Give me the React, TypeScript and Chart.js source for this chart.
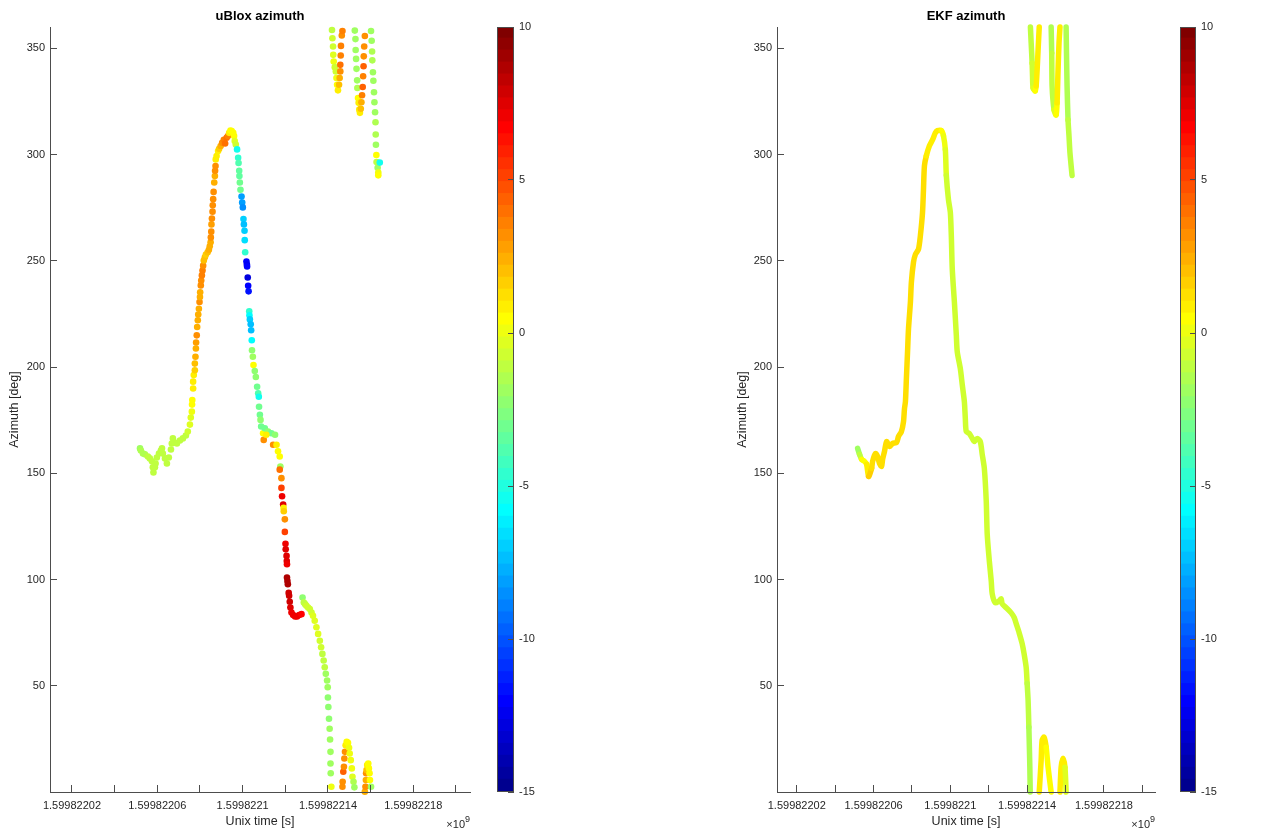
import React, { useEffect, useRef } from 'react';
import { Chart, registerables } from 'chart.js';

Chart.register(...registerables);

const FONT = "'Liberation Sans', Arial, Helvetica, sans-serif";
const TEXT_COLOR = '#262626';
const LINE_COLOR = '#4d4d4d';

// time values are seconds after 1599822000 (Unix time); axis labels in units of 1e9 s
const X_LIMITS = [9.7, 206.6];
const Y_LIMITS = [0, 360];
const C_LIMITS = [-15, 10];
const X_TICKS = [20, 40, 60, 80, 100, 120, 140, 160, 180, 200];
const X_TICK_LABELS = ['1.59982202', '', '1.59982206', '', '1.5998221', '', '1.59982214', '', '1.59982218', ''];
const Y_TICKS = [50, 100, 150, 200, 250, 300, 350];
const C_TICKS = [-15, -10, -5, 0, 5, 10];
const X_EXPONENT = '9';

// uBlox azimuth samples: time, azimuth [deg], colour value
const UBLOX_T = [
  51.9, 52.3, 53.3, 54.2, 55.6, 56.5, 57.5, 57.9, 58.2, 58.9, 59.2, 59.8, 60.8, 61.7, 62.2, 62.6, 63.6, 64.5, 65.4, 66.4,
  66.8, 67.3, 68.2, 69.2, 70.6, 72.0, 73.4, 74.3, 75.3, 75.7, 76.2, 76.3,
  76.4, 76.8, 76.8, 77.1, 77.6, 77.6, 77.9, 78.1, 78.2, 78.5, 78.7, 79.0, 79.2, 79.5, 79.8, 80.0, 80.1, 80.4, 80.6, 80.9,
  81.2, 81.5, 81.8, 82.3, 82.8, 83.6, 84.2, 84.6, 85.0, 85.1, 85.3, 85.4, 85.6, 85.9, 86.0, 86.2, 86.4, 86.7, 87.0, 87.1,
  87.3, 87.4, 87.8, 88.5, 89.0, 89.7, 90.4, 91.2, 91.8, 92.5, 93.1, 93.7, 94.3, 94.9, 95.6, 96.0, 96.3, 96.8,
  97.4, 97.9, 98.1, 98.4, 98.5, 98.7, 99.0, 99.5, 99.8, 100.1, 100.4, 100.6, 100.9, 101.0, 101.2, 101.8, 102.0, 102.1, 102.4, 102.6,
  102.8, 103.1, 103.2, 103.4, 103.8, 104.0, 104.3, 104.4, 104.8, 105.1, 105.7, 106.2, 106.8, 107.3, 107.6, 107.7, 108.1, 108.4, 108.7, 109.6,
  110.4, 111.9, 113.5, 115.2, 109.9, 111.1, 114.3, 115.9, 116.6, 117.4, 117.7, 117.4, 118.2, 118.2, 118.5, 119.0, 119.2, 119.3, 119.8, 119.8,
  120.1, 120.2, 120.6, 120.7, 120.8, 120.8, 121.0, 121.2, 121.6, 121.8, 122.1, 122.4, 122.9, 123.7, 124.6, 125.5, 126.5, 127.6,
  128.1, 128.7, 129.3, 129.9, 130.7, 131.5, 132.3, 133.0, 133.8, 134.6, 135.4, 136.2, 136.8, 137.4, 138.0, 138.5, 139.0, 139.6, 139.9, 140.0,
  140.2, 140.5, 140.8, 141.0, 141.2, 141.2, 141.3, 141.6,
  141.9, 142.1, 142.4, 142.5, 142.7, 143.2, 143.7, 144.0, 144.3, 144.7, 145.2, 145.5, 145.8, 145.8, 146.0, 146.1, 146.5, 146.8,
  146.8, 146.9, 147.2, 147.5, 147.7, 148.0, 148.3, 148.8, 149.4, 149.9, 150.2, 150.7, 151.2, 151.5, 152.0, 152.4,
  152.6, 152.9, 153.0, 153.2, 153.4, 153.7, 153.8, 154.1, 154.4, 154.7, 155.0, 155.4, 155.7, 156.0, 156.3, 156.5, 156.7, 156.8, 157.0, 157.3,
  157.3, 157.6, 157.8, 157.9, 158.1, 158.4, 158.9, 159.2, 159.5, 159.7, 160.2,
  160.2, 160.5, 160.7, 160.8, 161.1, 161.3, 161.6, 161.8, 162.1, 162.3, 162.4, 162.5, 162.7, 162.8, 163.3, 163.6, 163.6, 164.3,
];
const UBLOX_AZ = [
  161.7, 160.7, 159.3, 158.9, 157.9, 157.0, 155.6, 152.8, 150.4, 152.8, 154.6, 157.4, 159.3, 160.7, 161.7, 159.3, 157.0, 154.6, 157.4, 161.2,
  164.0, 166.4, 164.5, 164.0, 165.4, 166.4, 167.8, 169.6, 172.9, 176.2, 179.0, 182.3,
  184.5, 189.9, 193.1, 196.2, 198.5, 201.6, 204.8, 208.7, 211.5, 214.9, 218.8, 222.0, 224.7, 227.4, 230.6, 232.9, 235.2, 238.4, 240.7, 243.1,
  245.4, 247.7, 250.1, 251.6, 252.9, 254.0, 255.2, 256.8, 258.7, 261.0, 263.7, 267.1, 269.9, 273.1, 276.1, 279.0, 282.4, 286.8, 289.9, 292.3,
  294.6, 297.7, 299.3, 301.6, 302.7, 304.0, 305.5, 306.9, 305.2, 307.9, 308.7, 310.2, 311.3, 311.0, 310.2, 308.7, 306.3, 304.7,
  302.4, 298.5, 296.0, 292.3, 289.9, 286.8, 283.4, 280.2, 277.4, 275.1, 269.6, 267.1, 264.1, 259.7, 254.0, 249.6, 248.2, 247.3, 242.1, 238.2,
  235.6, 226.2, 224.3, 222.4, 220.1, 217.3, 212.6, 207.9, 204.8, 200.9, 198.1, 195.3, 190.7, 187.6, 186.0, 181.3, 177.5, 175.1, 172.0, 168.8,
  171.2, 169.6, 168.8, 168.1, 165.7, 168.1, 163.4, 163.4, 160.3, 157.9, 153.2, 151.7, 147.7, 143.1, 139.2, 135.3, 133.7, 132.1, 128.3, 122.4,
  116.8, 114.2, 111.1, 108.7, 107.2, 100.9, 99.3, 97.8, 93.7, 92.3, 89.5, 86.8, 84.5, 83.3, 82.6, 82.6, 83.3, 83.7,
  91.5, 89.2, 88.4, 87.6, 86.8, 86.1, 84.5, 82.9, 80.6, 77.5, 74.4, 71.2, 68.1, 65.0, 61.9, 58.7, 55.6, 52.5, 49.3, 44.5,
  40.0, 34.5, 29.8, 24.7, 18.9, 13.4, 8.8, 2.5,
  358.6, 354.7, 350.8, 346.9, 343.8, 341.1, 339.1, 336.0, 332.8, 330.2, 332.8, 336.0, 339.1, 342.2, 346.6, 351.1, 356.0, 358.1,
  2.5, 4.8, 9.5, 11.9, 15.8, 18.9, 22.0, 23.6, 23.1, 20.8, 18.1, 15.0, 11.1, 7.2, 4.8, 2.2,
  358.3, 354.3, 349.2, 345.0, 340.3, 334.9, 331.3, 326.6, 324.3, 321.1, 319.6, 321.5, 324.6, 327.9, 331.8, 336.8, 341.5, 346.2, 350.8, 355.8,
  0.1, 2.5, 5.6, 8.8, 10.3, 12.7, 13.4, 11.1, 8.8, 5.6, 2.5,
  358.1, 353.5, 348.5, 344.3, 338.7, 334.7, 329.3, 324.6, 319.9, 315.2, 309.4, 304.6, 299.8, 296.5, 293.8, 291.5, 290.2, 296.2,
];
const UBLOX_C = [
  -2, -1.5, -1.5, -1.5, -1.2, -1, -1, -1, -1, -1, -1, -1, -1, -1, -1.3, -1, -1, -1, -1, -1,
  -1.2, -1.2, -1, -1, -1, -1, -1, -0.8, -0.5, -0.3, 0, 0.5,
  0.5, 0.8, 1, 1, 1.5, 2, 2.5, 2.5, 2.8, 3, 2.5, 2.5, 2.5, 2.5, 3, 2.5, 2.5, 3, 3, 3.5,
  3.5, 3, 2, 2, 1.5, 1.8, 2.5, 2.5, 2.5, 3, 3, 2.8, 3, 3, 3, 3, 3, 2.5, 2.5, 3,
  3, 1, 0.8, 1, 1.5, 2.5, 3, 3.5, 4, 4, 3.5, 1, 0.5, 0.5, 0.3, 0.5, -0.5, -0.8,
  -5.5, -4.5, -4, -3.5, -3.5, -3, -3, -8, -8, -8.5, -7, -7.5, -7, -6.5, -4.5, -12, -12.5, -12, -13, -12,
  -11.5, -4.5, -6, -7, -7.5, -7.5, -6, -2.5, -2, 0.5, -2.5, -2.5, -3, -4, -5.5, -3, -3, -2.5, -3, 0.5,
  -3, -2.5, -3, -2.5, 3, 1, 3, 1, 0.5, 0.5, -2, 4, 3, 5, 7, 7.5, 1, 1.5, 3, 5,
  7, 7.5, 7.5, 7.5, 7, 8.5, 8.5, 8.5, 8, 8, 8, 7.5, 7, 7, 7, 7, 7, 6.5,
  -2.5, -1, -1, -0.8, -0.8, -0.8, -0.6, -0.5, -0.5, -0.5, -0.5, -0.6, -0.8, -1, -1.2, -1.3, -1.8, -2, -2, -2.2,
  -2.2, -2.2, -2, -2, -2, -2, -2, 0,
  -1, -0.8, -0.8, -0.5, 0, -0.8, -0.8, 0, 0.5, 1, 2, 2.5, 3, 4, 3.5, 3.5, 3, 3.5,
  3, 3, 4.5, 3, 3, 3, 1, 0.5, 0.5, 0, 0, 0, 0, -0.5, -1.5, -2,
  -2, -2, -2, -2, -2, -2, -1.5, 0.5, 0.8, 1, 1, 2, 2.5, 3.5, 4.5, 3.5, 4.5, 3, 3, 3,
  2.5, 3, 2.5, 3, 2, 1, 0.5, 0.5, 0.5, 0.5, -2,
  -2, -2, -1.5, -1.5, -2, -2, -2, -2, -2, -1.5, -1.5, -2, 0.5, -1, -2, 0, 0.5, -5.5,
];

// EKF azimuth: time, azimuth [deg] (null = break at 0/360 wrap), colour value
const EKF_T = [
  51.7, 52.7, 53.8, 55.3, 56.4, 57.4, 59.0, 59.5, 61.0, 62.1, 63.1, 64.2, 64.7, 65.7, 66.8, 68.3, 69.9, 72.0, 73.0, 74.5,
  75.6, 76.1, 76.6,
  77.1, 77.7, 78.2, 79.2, 79.7, 80.8, 81.8, 83.4, 84.4, 85.5, 86.0, 86.5, 87.5, 89.1, 90.7, 92.2, 93.2,
  95.3, 96.4, 97.4, 97.9, 99.0, 100.0, 100.5, 101.0, 102.1, 103.1, 103.6, 105.2, 106.2, 107.3, 107.8, 108.3, 109.9, 111.4, 112.5, 114.0,
  115.6, 116.6, 117.7, 118.7, 119.2, 120.3, 121.3, 121.8, 123.4, 125.5, 126.5, 127.0, 129.1, 131.7, 133.3, 134.3, 135.8, 137.4, 138.4, 139.5,
  140.0, 140.5, 140.9, 141.2, 141.4, 141.6,
  141.6,
  141.7, 142.1, 142.6, 142.8, 143.1, 144.2, 144.7, 145.2, 145.7, 146.3,
  146.3,
  146.3, 147.3, 147.8, 148.8, 149.9, 150.9, 152.5,
  152.5,
  152.5, 152.8, 153.0, 154.0, 155.1, 155.6, 156.1, 156.6, 157.1,
  157.1,
  157.1, 157.7, 158.7, 159.7, 160.3,
  160.3,
  160.3, 160.5, 160.8, 161.3, 161.8, 162.3, 163.4,
];
const EKF_AZ = [
  161.7, 158.9, 156.5, 155.6, 154.2, 148.5, 152.3, 155.6, 159.3, 157.9, 154.6, 153.2, 156.5, 160.3, 164.9, 162.6, 164.0, 164.5, 167.3, 169.6,
  174.3, 180.4, 183.7,
  194.5, 207.1, 217.9, 230.6, 239.9, 249.3, 253.0, 255.4, 261.9, 272.7, 283.5, 294.7, 299.4, 304.1, 306.9, 310.2, 311.2,
  311.2, 308.8, 302.2, 290.1, 278.8, 272.7, 261.9, 246.0, 230.6, 215.1, 207.1, 199.2, 191.7, 183.7, 175.7, 169.6, 168.7, 166.4, 164.9, 166.4,
  164.9, 158.9, 152.3, 136.8, 121.4, 108.7, 99.3, 93.3, 89.0, 90.0, 90.9, 88.6, 86.7, 84.3, 82.0, 79.2, 75.0, 69.8, 65.1, 58.6,
  51.1, 43.1, 30.5, 19.7, 11.7, 0,
  null,
  360, 352.4, 343.0, 336.9, 331.3, 329.9, 332.2, 339.7, 349.1, 360,
  null,
  0, 15.0, 24.4, 25.8, 21.1, 11.7, 0,
  null,
  360, 347.7, 332.2, 321.0, 318.6, 324.3, 339.7, 352.4, 360,
  null,
  0, 11.7, 15.9, 11.7, 0,
  null,
  360, 347.7, 332.2, 316.3, 308.8, 300.8, 290.1,
];
const EKF_C = [
  -1.8, -1, 0.3, 0.5, 0.8, 1.5, 1.2, 1.2, 1.2, 1.2, 1.2, 1.2, 1.2, 1.2, 1.2, 1.2, 1.2, 1.2, 1.2, 1.2,
  1.2, 1.2, 1.2,
  1.2, 1.2, 1.2, 1.2, 1.2, 1.2, 1.2, 1.2, 1.2, 1.2, 1.2, 1.2, 1.0, 1.0, 0.8, 0.8, 0.8,
  0.3, 0, -0.4, -0.6, -0.6, -0.6, -0.6, -0.6, -0.6, -0.6, -0.6, -0.6, -0.6, -0.6, -0.6, -0.6, -0.6, -0.6, -0.6, -0.6,
  -0.6, -0.6, -0.6, -0.6, -0.6, -0.6, -0.6, -0.6, -0.6, -0.6, -0.6, -0.6, -0.6, -0.6, -0.6, -0.6, -0.6, -0.7, -0.8, -0.9,
  -1, -1.3, -1.5, -1.5, -1.5, -1.5,
  0,
  -1, -1, -0.8, -0.6, -0.3, 0.3, 0.8, 0.8, 0.8, 0.8,
  0,
  1, 1, 1, 0.8, 0.6, 0.3, -1,
  0,
  -1.5, -1.3, -1, -0.5, 0.5, 1, 1, 1, 1,
  0,
  1, 1, 0.8, -0.5, -1.5,
  0,
  -1.5, -1.5, -1.5, -1.2, -1.2, -1, -0.8,
];

// MATLAB jet(64) colour map
function jetColor(v: number): string {
  const [lo, hi] = C_LIMITS;
  let k = Math.floor(((v - lo) / (hi - lo)) * 64) + 1;
  k = Math.max(1, Math.min(64, k));
  const u = (j: number) => (j < 1 || j > 47 ? 0 : j <= 16 ? j / 16 : j <= 31 ? 1 : (48 - j) / 16);
  const r = u(k - 24), g = u(k - 8), b = u(k + 8);
  return `rgb(${Math.round(r * 255)},${Math.round(g * 255)},${Math.round(b * 255)})`;
}

const exponentPlugin = {
  id: 'exponent',
  afterDraw(chart: any) {
    const { ctx, chartArea } = chart;
    ctx.save();
    ctx.fillStyle = TEXT_COLOR;
    ctx.textAlign = 'right';
    ctx.textBaseline = 'middle';
    ctx.font = `9px ${FONT}`;
    const w = ctx.measureText(X_EXPONENT).width;
    ctx.fillText(X_EXPONENT, chartArea.right, chartArea.bottom + 28);
    ctx.font = `11px ${FONT}`;
    ctx.fillText('\u00d710', chartArea.right - w, chartArea.bottom + 33);
    ctx.restore();
  },
};

const framePlugin = {
  id: 'frame',
  afterDatasetsDraw(chart: any) {
    const { ctx, chartArea } = chart;
    ctx.save();
    ctx.strokeStyle = LINE_COLOR;
    ctx.lineWidth = 1;
    ctx.strokeRect(chartArea.left + 0.5, chartArea.top + 0.5, chartArea.right - chartArea.left - 1, chartArea.bottom - chartArea.top - 1);
    ctx.restore();
  },
};

function mainOptions(title: string, yWidth: number): any {
  return {
    animation: false,
    responsive: false,
    events: [],
    layout: { padding: { left: 0, right: 10, top: 0, bottom: 0 } },
    plugins: {
      legend: { display: false },
      tooltip: { enabled: false },
      title: {
        display: true,
        text: title,
        fullSize: false,
        color: '#000',
        font: { family: FONT, size: 13, weight: 'bold', lineHeight: 1.2 },
        padding: { top: 9, bottom: 2.4 },
      },
    },
    scales: {
      x: {
        type: 'linear',
        min: X_LIMITS[0],
        max: X_LIMITS[1],
        afterFit: (s: any) => { s.height = 42; },
        afterBuildTicks: (s: any) => { s.ticks = X_TICKS.map((v) => ({ value: v })); },
        ticks: {
          autoSkip: false,
          maxRotation: 0,
          color: TEXT_COLOR,
          font: { family: FONT, size: 11 },
          padding: 14,
          callback: (_v: any, i: number) => X_TICK_LABELS[i] ?? '',
        },
        grid: { drawOnChartArea: false, drawTicks: true, tickLength: -7, tickColor: LINE_COLOR, tickWidth: 1, z: 1 },
        border: { display: true, color: LINE_COLOR, width: 1, z: 1 },
        title: {
          display: true,
          text: 'Unix time [s]',
          color: TEXT_COLOR,
          font: { family: FONT, size: 12.5, lineHeight: 1.2 },
          padding: { top: 0, bottom: 4.5 },
        },
      },
      y: {
        type: 'linear',
        min: Y_LIMITS[0],
        max: Y_LIMITS[1],
        afterFit: (s: any) => { s.width = yWidth; },
        afterBuildTicks: (s: any) => { s.ticks = Y_TICKS.map((v) => ({ value: v })); },
        ticks: { color: TEXT_COLOR, font: { family: FONT, size: 11 }, padding: 12 },
        grid: { drawOnChartArea: false, drawTicks: true, tickLength: -7, tickColor: LINE_COLOR, tickWidth: 1, z: 1 },
        border: { display: true, color: LINE_COLOR, width: 1, z: 1 },
        title: {
          display: true,
          text: 'Azimuth [deg]',
          color: TEXT_COLOR,
          font: { family: FONT, size: 12.5, lineHeight: 1.2 },
          padding: { top: 7.5, bottom: 7.5 },
        },
      },
    },
  };
}

function ubloxConfig(): any {
  return {
    type: 'scatter',
    data: {
      datasets: [
        {
          data: UBLOX_T.map((t, i) => ({ x: t, y: UBLOX_AZ[i] })),
          pointRadius: 3.3,
          pointBorderWidth: 0,
          pointBackgroundColor: UBLOX_C.map(jetColor),
          clip: false,
        },
      ],
    },
    options: mainOptions('uBlox azimuth', 50),
    plugins: [exponentPlugin],
  };
}

function ekfConfig(): any {
  return {
    type: 'scatter',
    data: {
      datasets: [
        {
          data: EKF_T.map((t, i) => ({ x: t, y: EKF_AZ[i] })),
          showLine: true,
          spanGaps: false,
          pointRadius: 0,
          borderWidth: 5.5,
          borderCapStyle: 'round',
          borderJoinStyle: 'round',
          tension: 0.25,
          borderColor: jetColor(1),
          segment: { borderColor: (ctx: any) => jetColor(EKF_C[ctx.p0DataIndex]) },
          clip: false,
        },
      ],
    },
    options: mainOptions('EKF azimuth', 49),
    plugins: [exponentPlugin],
  };
}

function colorbarConfig(yWidth: number): any {
  const n = 64;
  const step = (C_LIMITS[1] - C_LIMITS[0]) / n;
  const datasets = Array.from({ length: n }, (_, i) => {
    const lo = C_LIMITS[0] + i * step;
    return {
      data: [[lo, Math.min(C_LIMITS[1], lo + step * 1.08)]],
      backgroundColor: jetColor(lo + step / 2),
      borderWidth: 0,
      grouped: false,
      barPercentage: 1,
      categoryPercentage: 1,
    };
  });
  return {
    type: 'bar',
    data: { labels: [''], datasets },
    options: {
      animation: false,
      responsive: false,
      events: [],
      layout: { padding: { left: 7, right: 0, top: 27, bottom: 42 } },
      plugins: { legend: { display: false }, tooltip: { enabled: false }, title: { display: false } },
      scales: {
        x: { display: false },
        y: {
          position: 'right',
          min: C_LIMITS[0],
          max: C_LIMITS[1],
          afterFit: (s: any) => { s.width = yWidth; },
          afterBuildTicks: (s: any) => { s.ticks = C_TICKS.map((v) => ({ value: v })); },
          ticks: { color: TEXT_COLOR, font: { family: FONT, size: 11 }, padding: 11 },
          grid: { drawOnChartArea: false, drawTicks: true, tickLength: -6, tickColor: LINE_COLOR, tickWidth: 1, z: 1 },
          border: { display: false },
        },
      },
    },
    plugins: [framePlugin],
  };
}

function ChartCanvas(props: { left: number; top: number; width: number; height: number; build: () => any }) {
  const ref = useRef<HTMLCanvasElement>(null);
  useEffect(() => {
    const chart = new Chart(ref.current as HTMLCanvasElement, props.build());
    return () => chart.destroy();
  }, []);
  return (
    <canvas
      ref={ref}
      width={props.width}
      height={props.height}
      style={{ position: 'absolute', left: props.left, top: props.top, width: props.width, height: props.height }}
    />
  );
}

export default function App() {
  return (
    <div style={{ position: 'fixed', left: 0, top: 0, width: 1278, height: 834, background: '#fff', overflow: 'hidden' }}>
      <ChartCanvas left={0} top={0} width={480} height={834} build={ubloxConfig} />
      <ChartCanvas left={490} top={0} width={60} height={834} build={() => colorbarConfig(36)} />
      <ChartCanvas left={728} top={0} width={437} height={834} build={ekfConfig} />
      <ChartCanvas left={1173} top={0} width={60} height={834} build={() => colorbarConfig(37)} />
    </div>
  );
}
